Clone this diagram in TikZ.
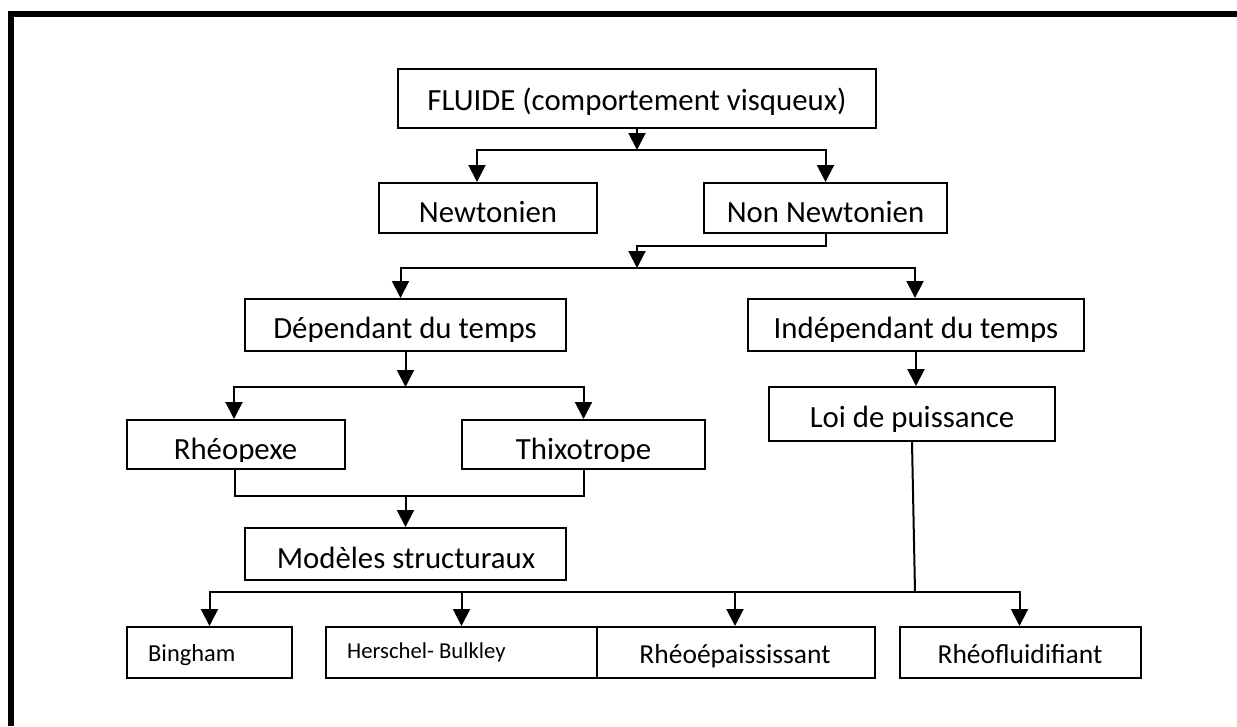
\documentclass[tikz,border=0pt]{standalone}
\usepackage{fontspec}
\setmainfont{Carlito}
\usetikzlibrary{arrows.meta}
\begin{document}
\begin{tikzpicture}[x=1pt,y=-1pt,
  box/.style={draw=black, line width=2pt, fill=white, inner sep=0pt},
  lbl/.style={anchor=base, inner sep=0pt, font=\fontsize{30.8}{36}\selectfont},
  lblb/.style={anchor=base, inner sep=0pt, font=\fontsize{27.5}{32}\selectfont},
  lbls/.style={anchor=base west, inner sep=0pt},
  conn/.style={line width=2pt},
  arr/.style={conn, -{Triangle[width=17pt,length=17pt]}},
]
\useasboundingbox (0,0) rectangle (1237,726);
\fill[white] (0,0) rectangle (1237,726);
\draw[line width=6pt] (1237,14) -- (11,14) -- (11,726);

% boxes
\node[box, minimum width=478pt, minimum height=59pt] (fluide) at (637,98.5) {};
\node[box, minimum width=218pt, minimum height=50pt] (newt) at (488,208) {};
\node[box, minimum width=243pt, minimum height=50pt] (nonnewt) at (825.5,208) {};
\node[box, minimum width=321pt, minimum height=52pt] (dep) at (405.5,325) {};
\node[box, minimum width=336pt, minimum height=52pt] (indep) at (916,325) {};
\node[box, minimum width=218pt, minimum height=49pt] (rheo) at (236,444.5) {};
\node[box, minimum width=243pt, minimum height=49pt] (thixo) at (583.5,444.5) {};
\node[box, minimum width=321pt, minimum height=52pt] (modeles) at (405.5,554) {};
\node[box, minimum width=286pt, minimum height=54pt] (loi) at (912,414) {};
\node[box, minimum width=165pt, minimum height=51pt] (bingham) at (209.5,652.5) {};
\node[box, minimum width=271pt, minimum height=51pt] (herschel) at (461.5,652.5) {};
\node[box, minimum width=278pt, minimum height=51pt] (rheoep) at (736,652.5) {};
\node[box, minimum width=241pt, minimum height=51pt] (rheofl) at (1020.5,652.5) {};

% labels
\node[lbl] (tfluide) at (637,110) {FLUIDE (comportement visqueux)};
\node[lbl] (tnewt) at (488,222) {Newtonien};
\node[lbl] (tnonnewt) at (825.5,222) {Non Newtonien};
\begin{scope}
\clip (dep.north west) rectangle ([yshift=11pt]dep.south east);
\node[lbl] (tdep) at (405,338) {Dépendant du temps};
\end{scope}
\begin{scope}
\clip (indep.north west) rectangle ([yshift=11pt]indep.south east);
\node[lbl] (tindep) at (916,338) {Indépendant du temps};
\end{scope}
\begin{scope}
\clip (rheo.north west) rectangle ([yshift=9pt]rheo.south east);
\node[lbl] (trheo) at (235.5,459) {Rhéopexe};
\end{scope}
\begin{scope}
\clip (thixo.north west) rectangle ([yshift=9pt]thixo.south east);
\node[lbl] (tthixo) at (583.5,459) {Thixotrope};
\end{scope}
\node[lbl] (tmodeles) at (406,568) {Modèles structuraux};
\node[lbl] (tloi) at (912,427) {Loi de puissance};
\node[lbls, font=\fontsize{24.4}{28}\selectfont] (tbingham) at (148,661) {Bingham};
\node[lbls, font=\fontsize{22.7}{26}\selectfont] (therschel) at (347,658) {Herschel- Bulkley};
\node[lblb] (trheoep) at (735,663) {Rhéoépaississant};
\node[lblb] (trheofl) at (1020,663) {Rhéofluidifiant};

% connectors
\coordinate (j1) at (637,150);
\draw[arr] (fluide.south) -- (j1);
\draw[arr] (j1) -| ([xshift=-11pt]newt.north);
\draw[arr] (j1) -| (nonnewt.north);

\coordinate (j2) at (637,268);
\draw[arr] (nonnewt.south) -- ++(0,12) -| (j2);
\draw[arr] (j2) -| ([xshift=-5pt]dep.north);
\draw[arr] (j2) -| ([xshift=-1pt]indep.north);

\coordinate (j3) at (405.5,387);
\draw[arr] (dep.south) -- (j3);
\draw[arr] (j3) -| ([xshift=-2pt]rheo.north);
\draw[arr] (j3) -| (thixo.north);

\coordinate (j4) at (405.5,496);
\draw[conn] ([xshift=-1pt]rheo.south) |- (j4);
\draw[conn] (thixo.south) |- (j4);
\draw[arr] (j4) -- (modeles.north);

\draw[arr] (indep.south) -- (indep.south |- loi.north);

\coordinate (j5) at (915,592);
\draw[conn] (loi.south) -- (j5);
\draw[arr] (j5) -| (bingham.north);
\draw[arr] (j5) -| (herschel.north);
\draw[arr] (j5) -| ([xshift=-1pt]rheoep.north);
\draw[arr] (j5) -| ([xshift=-1pt]rheofl.north);
\end{tikzpicture}
\end{document}
